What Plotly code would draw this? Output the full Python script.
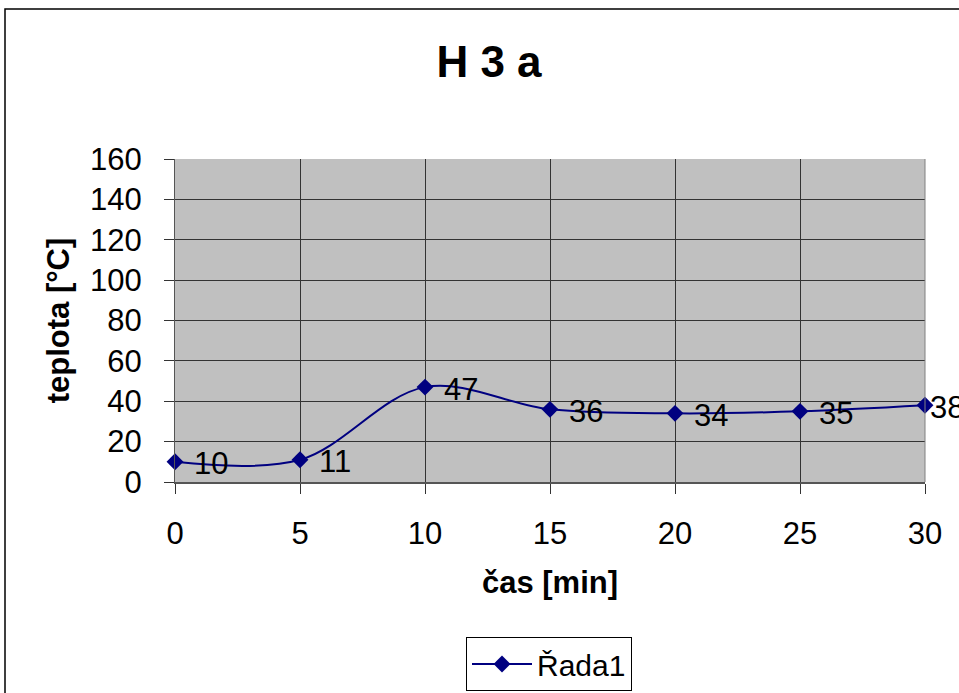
import plotly.graph_objects as go

# Temperature readings over time
cas_min = [0, 5, 10, 15, 20, 25, 30]
teplota = [10, 11, 47, 36, 34, 35, 38]
y_ticks = [0, 20, 40, 60, 80, 100, 120, 140, 160]
x_ticks = [0, 5, 10, 15, 20, 25, 30]

NAVY = "#000080"
GRID = "#333333"
FONT = "Arial, Liberation Sans, sans-serif"

fig = go.Figure()
fig.add_trace(go.Scatter(
    x=cas_min,
    y=teplota,
    mode="lines+markers",
    name="Řada1",
    line=dict(color=NAVY, width=2, shape="spline", smoothing=1.0),
    marker=dict(symbol="diamond", size=13, color=NAVY),
    cliponaxis=False,
))

# Value labels to the right of each point; the one at the right edge hugs its marker
x_max = max(cas_min)
for xv, yv in zip(cas_min, teplota):
    fig.add_annotation(
        x=xv, y=yv, xref="x", yref="y",
        text=str(yv), showarrow=False,
        xanchor="left", yanchor="middle",
        xshift=3 if xv == x_max else 17, yshift=-2,
        font=dict(family=FONT, size=31, color="#000000"),
    )

L, R, T, B = 175, 34, 159, 211
W, H = 959, 693
pw, ph = W - L - R, H - T - B

def px_x(x):
    return (x - L) / pw

def px_y(y):
    return (H - B - y) / ph

fig.update_layout(
    width=W,
    height=H,
    margin=dict(l=L, r=R, t=T, b=B, pad=0, autoexpand=False),
    paper_bgcolor="#FFFFFF",
    plot_bgcolor="#C0C0C0",
    font=dict(family=FONT, size=31, color="#000000"),
    title=dict(
        text="<b>H 3 a</b>",
        font=dict(family=FONT, size=44, color="#000000"),
        x=px_x(489), xref="paper", xanchor="center",
        y=1 - 62 / H, yref="container", yanchor="middle",
    ),
    showlegend=True,
    legend=dict(
        orientation="h",
        x=px_x(549), xanchor="center",
        y=px_y(691), yanchor="bottom",
        bordercolor="#000000",
        borderwidth=1,
        bgcolor="#FFFFFF",
        itemwidth=60,
        font=dict(family=FONT, size=30, color="#000000"),
    ),
    xaxis=dict(
        range=[0, 30],
        tickvals=x_ticks,
        automargin=False,
        showgrid=True,
        gridcolor=GRID,
        gridwidth=1,
        zeroline=False,
        showline=True,
        linecolor="#555555",
        linewidth=2,
        ticks="outside",
        ticklen=10,
        tickcolor=GRID,
        ticklabelstandoff=13,
        tickfont=dict(family=FONT, size=31, color="#000000"),
        title=dict(text="<b>čas [min]</b>", font=dict(family=FONT, size=31, color="#000000"), standoff=21),
    ),
    yaxis=dict(
        range=[0, 160],
        tickvals=y_ticks,
        automargin=False,
        showgrid=True,
        gridcolor=GRID,
        gridwidth=1,
        zeroline=False,
        showline=True,
        linecolor="#555555",
        linewidth=1,
        ticks="outside",
        ticklen=10,
        tickcolor=GRID,
        ticklabelstandoff=16,
        tickfont=dict(family=FONT, size=31, color="#000000"),
        title=dict(text="<b>teplota [°C]</b>", font=dict(family=FONT, size=31, color="#000000"), standoff=11),
    ),
)

# Plot-area right edge and outer chart frame
fig.add_shape(type="line", xref="paper", yref="paper", x0=1, x1=1, y0=0, y1=1,
              line=dict(color="#808080", width=1))
fig.add_shape(type="rect", xref="paper", yref="paper",
              x0=px_x(5), x1=px_x(975), y0=px_y(710), y1=px_y(9),
              line=dict(color="#000000", width=1.5), fillcolor="rgba(0,0,0,0)", layer="above")

fig.write_html("out.html")
